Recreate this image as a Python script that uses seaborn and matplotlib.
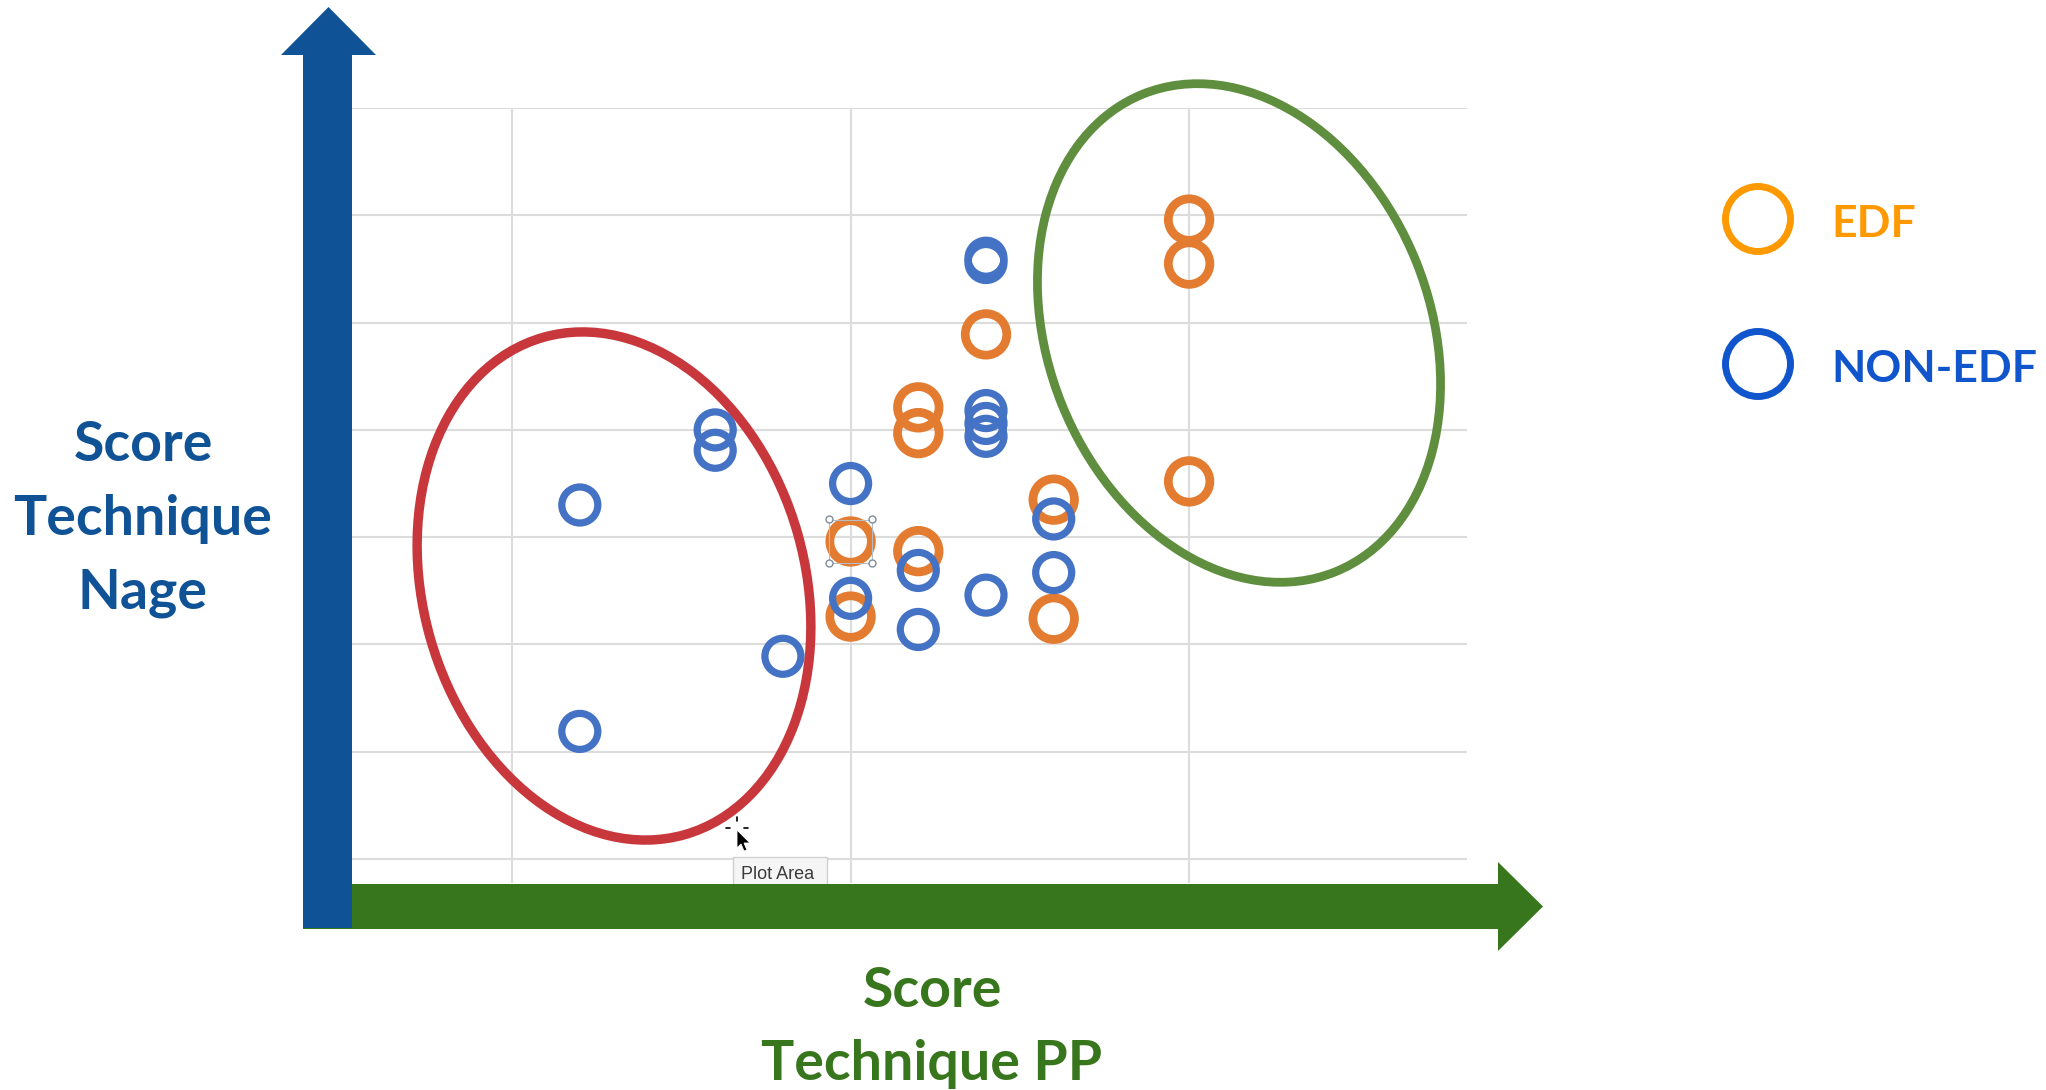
import numpy as np
import pandas as pd
import matplotlib
matplotlib.use("Agg")
import matplotlib.pyplot as plt
from matplotlib.patches import Ellipse, Polygon, Circle, Rectangle
from matplotlib import transforms
import seaborn as sns

# Scores (x : technique PP, y : technique nage)
edf_pp = [10, 10, 11, 11, 11, 12, 13, 13, 15, 15, 15]
edf_nage = [2.96, 2.26, 4.21, 3.97, 2.87, 4.89, 3.35, 2.24, 5.96, 5.55, 3.52]

non_edf_pp = [6, 6, 8, 8, 9, 10, 10, 11, 11, 12, 12, 12, 12, 12, 12, 13, 13]
non_edf_nage = [3.30, 1.19, 4.00, 3.81, 1.89, 3.50, 2.43, 2.69, 2.14,
                5.60, 5.56, 4.18, 4.06, 3.94, 2.46, 3.17, 2.67]

groupes = ["EDF", "NON-EDF"]
couleurs = {"EDF": "#E37B30", "NON-EDF": "#4472C4"}
couleurs_legende = {"EDF": "#FF9900", "NON-EDF": "#1155CC"}

df = pd.concat([
    pd.DataFrame({"pp": edf_pp, "nage": edf_nage, "groupe": "EDF"}),
    pd.DataFrame({"pp": non_edf_pp, "nage": non_edf_nage, "groupe": "NON-EDF"}),
], ignore_index=True)

sns.set_theme(style="white")
plt.rcParams['font.family'] = ['Lato', 'DejaVu Sans']

W, H = 2046, 1090
fig = plt.figure(figsize=(W / 100, H / 100), dpi=100)
ax = fig.add_axes([352 / W, 1 - 883 / H, (1467 - 352) / W, (883 - 108) / H])

# EDF d'abord, NON-EDF par dessus
tailles = {"EDF": (894, 6.3), "NON-EDF": (672, 5.2)}
for g in groupes:
    sub = df[df["groupe"] == g]
    s, lw = tailles[g]
    sns.scatterplot(data=sub, x="pp", y="nage", ax=ax, s=s, facecolor="none",
                    edgecolor=couleurs[g], linewidth=lw, legend=False, zorder=3)

ax.set_xlim(2.635, 19.105)
ax.set_ylim(-0.223, 7.0)
ax.set_xticks([5, 10, 15])
ax.set_yticks(range(8))
ax.grid(True, color="#DCDCDC", lw=1.5)
ax.tick_params(length=0, labelbottom=False, labelleft=False)
ax.set_xlabel("")
ax.set_ylabel("")
for sp in ax.spines.values():
    sp.set_visible(False)

# poignées de sélection autour du point sélectionné
sx, sy = edf_pp[0], edf_nage[0]
ax.scatter([sx], [sy], marker="s", s=975, facecolor="none", edgecolor="#B5BEC7", lw=0.8, zorder=4)
for dx in (-21.7, 21.7):
    for dy in (-22, 22):
        tr = transforms.offset_copy(ax.transData, fig=fig, x=dx, y=dy, units="dots")
        ax.plot([sx], [sy], "o", ms=5, mfc="white", mec="#7F8C99", mew=1, transform=tr, zorder=5)

# calque de dessin en pixels
ov = fig.add_axes([0, 0, 1, 1], zorder=5)
ov.set_xlim(0, W)
ov.set_ylim(H, 0)
ov.axis("off")
ov.patch.set_alpha(0)

ov.add_patch(Ellipse((614, 586), width=382, height=517, angle=-15.9,
                     fill=False, ec="#C8373C", lw=6.8))
ov.add_patch(Ellipse((1239, 333), width=382, height=515, angle=-21.9,
                     fill=False, ec="#5E8E3E", lw=6.3))

# info-bulle "Plot Area"
ov.add_patch(Rectangle((733, 857), 94, 40, fc="#F5F5F5", ec="#D0D0D0", lw=1))
ov.text(741, 879, "Plot Area", fontsize=13, color="#3A3A3A", family="Liberation Sans", va="baseline")
ov.add_patch(Polygon([(737, 830), (737, 848), (741, 844), (744, 851), (747, 850), (744, 843), (750, 843)],
                     closed=True, fc="black", ec="white", lw=0.6))
for (x0, y0, x1, y1) in [(726, 828, 730, 828), (744, 828, 748, 828), (737, 817, 737, 821)]:
    ov.plot([x0, x1], [y0, y1], color="black", lw=1.2)

# flèches des axes
ov.add_patch(Polygon([(303, 884), (1498, 884), (1498, 862), (1543, 906.5),
                      (1498, 951), (1498, 929), (303, 929)], closed=True, fc="#38761D", ec="none"))
ov.add_patch(Polygon([(303, 928), (303, 55), (281, 55), (328.5, 7), (376, 55),
                      (352, 55), (352, 928)], closed=True, fc="#0F5296", ec="none"))

# titres des axes
for txt, yb in zip(["Score", "Technique", "Nage"], [461, 535, 608]):
    ov.text(143, yb, txt, color="#0F5296", fontsize=40, fontweight="bold", ha="center", va="baseline")
for txt, yb in zip(["Score", "Technique PP"], [1007, 1080]):
    ov.text(932, yb, txt, color="#38761D", fontsize=40, fontweight="bold", ha="center", va="baseline")

# légende
for g, yc in zip(groupes, [219, 364]):
    ov.add_patch(Circle((1758, yc), 32.5, fill=False, ec=couleurs_legende[g], lw=5))
    ov.text(1831, yc + 18, g, color=couleurs_legende[g], fontsize=32, fontweight="bold", va="baseline")

fig.savefig("out.png", dpi=100)
